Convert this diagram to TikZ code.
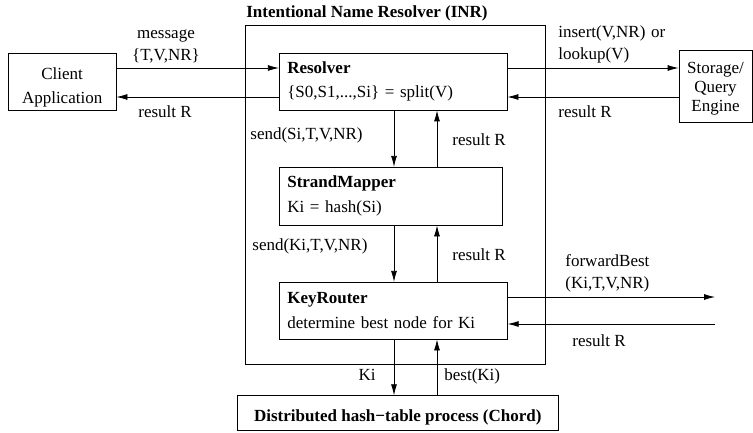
\documentclass[tikz,border=0pt]{standalone}
\usepackage{fontspec}
\setmainfont{Liberation Serif}
\usetikzlibrary{arrows.meta}

\tikzset{
  box/.style={draw,inner ysep=0pt,font=\fontsize{17}{24.5}\selectfont},
  blk/.style={box,inner xsep=8pt,align=left,text width=#1},
  lbl/.style={inner sep=0pt,font=\fontsize{17}{22}\selectfont},
}

\begin{document}
\begin{tikzpicture}[x=1pt,y=-1pt,line width=0.8pt,>={Latex[length=11pt,width=6pt]}]
  \useasboundingbox (0,0) rectangle (753,433);
  % INR frame and title
  \node[draw,inner sep=0pt,minimum width=299.3pt,minimum height=339pt] (inr) at (395.35,194.5) {};
  \node[lbl,anchor=base,font=\fontsize{17}{22}\selectfont\bfseries] (title) at (367,18)
    {Intentional Name Resolver (INR)};
  % components
  \node[blk=211.7pt,minimum height=56.7pt] (res) at (393.15,81.65)
    {\textbf{Resolver}\\\{S0,S1,...,Si\} = split(V)};
  \node[blk=207.4pt,minimum height=57.7pt] (sm) at (391,196.15)
    {\textbf{StrandMapper}\\Ki = hash(Si)};
  \node[blk=212pt,minimum height=56.7pt] (kr) at (393.3,310.65)
    {\textbf{KeyRouter}\\determine best node for Ki};
  \node[box,align=center,text width=92pt,inner xsep=7.85pt,minimum height=56.7pt,
    font=\fontsize{17}{24}\selectfont,text height=23pt] (cli) at (62.15,81.65)
    {Client\\Application};
  \node[box,align=center,text width=63pt,inner xsep=5pt,minimum height=72pt,
    font=\fontsize{17}{19}\selectfont,text height=16pt] (sto) at (715.5,86.7)
    {Storage/\\Query\\Engine};
  \node[box,minimum width=321pt,minimum height=34.3pt,text height=18pt,text depth=0pt,
    font=\fontsize{17}{22}\selectfont\bfseries] (dht) at (397.8,412.85)
    {Distributed hash−table process (Chord)};
  % rows and columns of the connectors
  \coordinate (r1) at (0,68);
  \coordinate (r2) at (0,97);
  \coordinate (dn) at (394,0);
  \coordinate (up) at (437,0);
  \coordinate (fwd) at (715,297);
  \coordinate (bck) at (715,324);
  \path[->] (cli.east |- r1) edge (res.west |- r1)
            (res.west |- r2) edge (cli.east |- r2)
            (res.east |- r1) edge (sto.west |- r1)
            (sto.west |- r2) edge (res.east |- r2);
  \path[->] (res.south -| dn) edge (sm.north -| dn)
            (sm.north -| up) edge (res.south -| up);
  \path[->] (sm.south -| dn) edge (kr.north -| dn)
            (kr.north -| up) edge (sm.south -| up);
  \path[->] (kr.south -| dn) edge (dht.north -| dn)
            (dht.north -| up) edge (kr.south -| up);
  \path[->] (kr.east |- fwd) edge (fwd)
            (bck) edge (kr.east |- bck);
  % connector labels
  \node[lbl,anchor=base,align=center,text width=80pt] (msg) at (166,38.3)
    {message\\\{T,V,NR\}};
  \node[lbl,anchor=base west] (rcli) at (138,118) {result R};
  \node[lbl,anchor=base west,align=left,text width=130pt] (ins) at (558,38)
    {insert(V,NR) or\\lookup(V)};
  \node[lbl,anchor=base west] (rsto) at (558,118) {result R};
  \node[lbl,anchor=base west] (snd1) at (250,140) {send(Si,T,V,NR)};
  \node[lbl,anchor=base west] (rsm) at (452,146) {result R};
  \node[lbl,anchor=base west] (snd2) at (252,251) {send(Ki,T,V,NR)};
  \node[lbl,anchor=base west] (rkr) at (452,260) {result R};
  \node[lbl,anchor=base west,align=left,text width=130pt] (fb) at (565,266)
    {forwardBest\\(Ki,T,V,NR)};
  \node[lbl,anchor=base west] (rfb) at (572,346) {result R};
  \node[lbl,anchor=base] (ki) at (367,380) {Ki};
  \node[lbl,anchor=base west] (best) at (444,380) {best(Ki)};
\end{tikzpicture}
\end{document}
